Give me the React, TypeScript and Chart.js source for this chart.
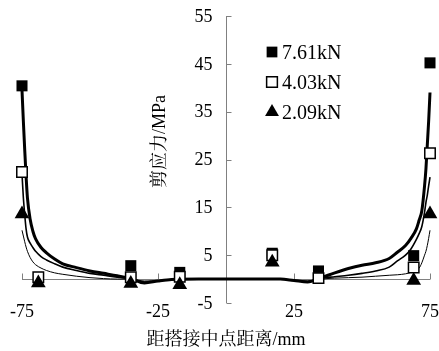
import React, { useEffect, useRef } from 'react';
import { Chart, registerables } from 'chart.js';
import { drawPoint } from 'chart.js/helpers';

Chart.register(...registerables);

// Finite-element curves: distance from lap centre (mm) vs shear stress (MPa)
const curveX = [-75, -74.5, -74, -73.5, -73, -72, -71, -70, -68, -66, -63, -60, -55, -50, -45, -40, -35, -30, -25, -20, -10, 0, 10, 20, 25, 30, 35, 40, 45, 50, 55, 60, 63, 66, 68, 70, 71, 72, 73, 73.5, 74, 74.5, 75];
const fem761 = [39.5, 33, 27, 21.5, 17, 12.5, 10, 8.4, 6.6, 5.5, 4.2, 3.2, 2.4, 1.7, 1.2, 0.7, 0.1, -0.8, -0.4, -0.1, 0, 0, 0, 0, -0.3, -0.6, 0.3, 1.3, 2.2, 2.9, 3.4, 4.3, 5.6, 7.0, 8.5, 10.5, 12.3, 14.3, 19.5, 23, 28, 33, 39];
const fem403 = [22, 17, 13.5, 10.5, 8.8, 7.5, 6.6, 5.8, 4.7, 4.0, 3.2, 2.5, 1.8, 1.2, 0.8, 0.4, 0.1, -0.6, -0.4, -0.1, 0, 0, 0, 0, -0.3, -0.5, 0.2, 0.5, 0.8, 1.2, 1.7, 2.5, 3.8, 5.0, 6.3, 8.3, 9.5, 11, 14, 16, 17.5, 19.5, 21.3];
const fem209 = [10.2, 9, 7.8, 6.7, 5.8, 4.5, 3.6, 3.0, 2.3, 1.8, 1.3, 1.0, 0.6, 0.3, 0.1, 0, 0, -0.4, -0.3, -0.1, 0, 0, 0, 0, -0.2, -0.4, 0, 0.2, 0.3, 0.4, 0.6, 0.8, 0.9, 1.1, 1.4, 1.9, 2.3, 3.4, 5.0, 5.8, 7.0, 8.5, 10.2];

// Measured points
const testX = [-75, -69, -35, -17, 17, 34, 69, 75];
const test761 = [40.4, null, 2.8, 1.4, 5.4, 1.7, 4.9, 45.2];
const test403 = [22.4, 0.4, 0.4, 0.5, 5.0, 0.2, 2.4, 26.3];
const test209 = [13.6, -0.8, -0.9, -1.2, 3.5, null, -0.3, 13.6];

const xTicks = [-75, -25, 25, 75];
const yTicks = [-5, 5, 15, 25, 35, 45, 55];
const legendLabels = ['7.61kN', '4.03kN', '2.09kN'];
const xTitle = '距搭接中点距离/mm';
const yTitle = '剪应力/MPa';

const FONT = '"Liberation Serif", "Times New Roman", "Noto Serif CJK SC", "Noto Sans CJK SC", serif';
const AXIS_COLOR = '#808080';

const toPoints = (xs: number[], ys: (number | null)[]) =>
  xs.map((x, i) => ({ x, y: ys[i] })).filter((p) => p.y !== null) as { x: number; y: number }[];

const overlay = {
  id: 'overlay',
  beforeDatasetsDraw(chart: any) {
    const { ctx, scales } = chart;
    const xs = scales.x;
    const ys = scales.y;
    ctx.save();
    ctx.strokeStyle = AXIS_COLOR;
    ctx.lineWidth = 1;
    ctx.beginPath();
    // vertical axis through x = 0 with ticks pointing right
    const x0 = Math.round(xs.getPixelForValue(0)) + 0.5;
    ctx.moveTo(x0, ys.getPixelForValue(yTicks[0]));
    ctx.lineTo(x0, ys.getPixelForValue(yTicks[yTicks.length - 1]));
    yTicks.forEach((v) => {
      const py = Math.round(ys.getPixelForValue(v)) + 0.5;
      ctx.moveTo(x0, py);
      ctx.lineTo(x0 + 5, py);
    });
    // horizontal axis through y = 0 with ticks pointing up
    const y0 = Math.round(ys.getPixelForValue(0)) + 0.5;
    ctx.moveTo(xs.getPixelForValue(xTicks[0]), y0);
    ctx.lineTo(xs.getPixelForValue(xTicks[xTicks.length - 1]), y0);
    xTicks.forEach((v) => {
      const px = Math.round(xs.getPixelForValue(v)) + 0.5;
      ctx.moveTo(px, y0);
      ctx.lineTo(px, y0 - 6);
    });
    ctx.stroke();

    // value labels to the left of the vertical axis
    ctx.fillStyle = '#000';
    ctx.font = `18px ${FONT}`;
    ctx.textAlign = 'right';
    ctx.textBaseline = 'middle';
    ys.ticks.forEach((t: any) => {
      ctx.fillText(String(t.value), x0 - 14, ys.getPixelForValue(t.value) + 1);
    });
    ctx.restore();
  },
  afterDraw(chart: any) {
    const { ctx, chartArea, scales } = chart;
    const x0 = scales.x.getPixelForValue(0);
    ctx.save();
    // legend for the measured series
    const markerX = x0 + 46;
    [3, 4, 5].forEach((dsIndex, row) => {
      const ds = chart.data.datasets[dsIndex];
      const my = chartArea.top + 36 + row * 30;
      ctx.fillStyle = ds.pointBackgroundColor;
      ctx.strokeStyle = ds.pointBorderColor;
      ctx.lineWidth = ds.pointBorderWidth;
      drawPoint(ctx, {
        pointStyle: ds.pointStyle,
        radius: ds.pointStyle === 'triangle' ? 8 : 7.6,
        borderWidth: ds.pointBorderWidth,
        rotation: 0,
      } as any, markerX, my);
      ctx.fillStyle = '#000';
      ctx.font = `20px ${FONT}`;
      ctx.textAlign = 'left';
      ctx.textBaseline = 'alphabetic';
      ctx.fillText(ds.label, markerX + 10, my + 6.5);
    });
    // rotated axis title beside the vertical axis
    ctx.translate(x0 - 66, (chartArea.top + chartArea.bottom) / 2 - 18);
    ctx.rotate(-Math.PI / 2);
    ctx.fillStyle = '#000';
    ctx.font = `18px ${FONT}`;
    ctx.textAlign = 'center';
    ctx.textBaseline = 'middle';
    ctx.fillText(yTitle, 0, 0);
    ctx.restore();
  },
};

export default function App() {
  const canvasRef = useRef<HTMLCanvasElement>(null);

  useEffect(() => {
    const canvas = canvasRef.current;
    if (!canvas) return;
    const curve = (ys: number[], width: number) => ({
      type: 'line' as const,
      label: '',
      data: toPoints(curveX, ys),
      borderColor: '#000',
      borderWidth: width,
      pointRadius: 0,
      cubicInterpolationMode: 'monotone' as const,
      fill: false,
      clip: false,
      order: 10,
    });
    const chart = new Chart(canvas, {
      type: 'scatter',
      data: {
        datasets: [
          curve(fem761, 3),
          curve(fem403, 1.6),
          curve(fem209, 1),
          {
            label: legendLabels[0],
            data: toPoints(testX, test761),
            pointStyle: 'rect',
            pointRadius: 7.8,
            pointBackgroundColor: '#000',
            pointBorderColor: '#000',
            pointBorderWidth: 0,
            clip: false,
            order: 3,
          } as any,
          {
            label: legendLabels[1],
            data: toPoints(testX, test403),
            pointStyle: 'rect',
            pointRadius: 7.4,
            pointBackgroundColor: '#fff',
            pointBorderColor: '#000',
            pointBorderWidth: 1.5,
            clip: false,
            order: 2,
          } as any,
          {
            label: legendLabels[2],
            data: toPoints(testX, test209),
            pointStyle: 'triangle',
            pointRadius: 8.5,
            pointBackgroundColor: '#000',
            pointBorderColor: '#000',
            pointBorderWidth: 0,
            clip: false,
            order: 1,
          } as any,
        ],
      },
      options: {
        animation: false,
        responsive: true,
        maintainAspectRatio: false,
        layout: { padding: { left: 22, right: 9, top: 16, bottom: 0 } },
        plugins: { legend: { display: false }, tooltip: { enabled: false } },
        scales: {
          x: {
            type: 'linear',
            min: -75,
            max: 75,
            afterBuildTicks: (s: any) => {
              s.ticks = xTicks.map((value) => ({ value }));
            },
            afterFit: (s: any) => {
              s.height = 48;
            },
            grid: { display: false, drawTicks: false },
            border: { display: false },
            ticks: {
              color: '#000',
              font: { family: FONT, size: 18 },
              padding: -2,
              maxRotation: 0,
              autoSkip: false,
              callback: (v: any) => String(v),
            },
            title: {
              display: true,
              text: xTitle,
              color: '#000',
              font: { family: FONT, size: 18 },
              padding: { top: 0, bottom: 0 },
            },
          },
          y: {
            type: 'linear',
            position: { x: 0 } as any,
            min: -5,
            max: 55,
            afterBuildTicks: (s: any) => {
              s.ticks = yTicks.map((value) => ({ value }));
            },
            grid: { display: false, drawTicks: false },
            border: { display: false },
            ticks: { display: false, padding: 0 },
          },
        },
      },
      plugins: [overlay],
    });
    return () => chart.destroy();
  }, []);

  return (
    <div style={{ position: 'absolute', left: 0, top: 0, width: 439, height: 351, background: '#fff' }}>
      <canvas ref={canvasRef} />
    </div>
  );
}
